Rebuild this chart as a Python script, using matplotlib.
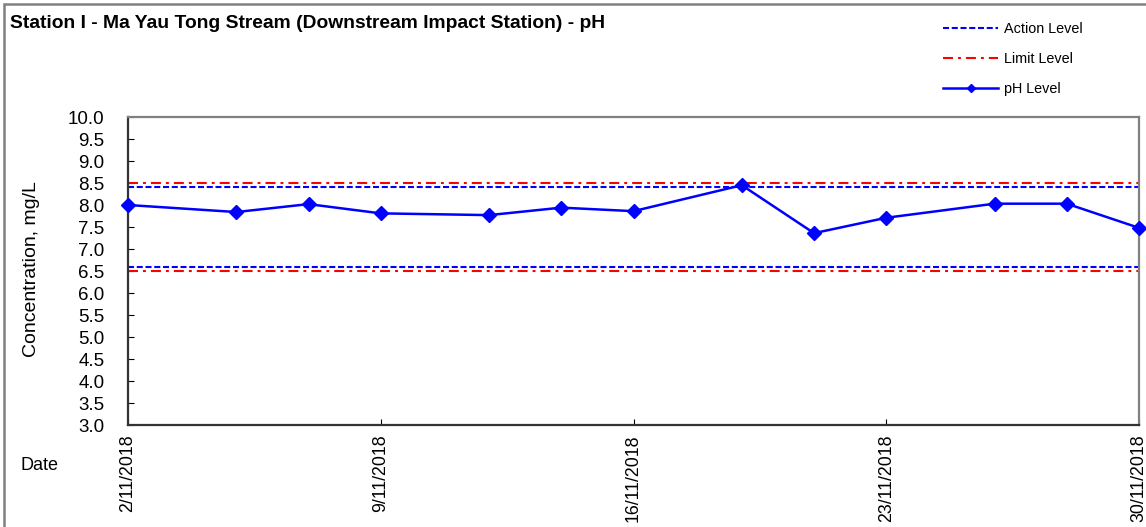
import matplotlib
matplotlib.use("Agg")
import matplotlib.pyplot as plt
from matplotlib.patches import Rectangle
import datetime as dt

plt.rcParams['font.family'] = ['Liberation Sans', 'DejaVu Sans']

dates = ["2018-11-02", "2018-11-05", "2018-11-07", "2018-11-09", "2018-11-12",
         "2018-11-14", "2018-11-16", "2018-11-19", "2018-11-21", "2018-11-23",
         "2018-11-26", "2018-11-28", "2018-11-30"]
ph_values = [8.0, 7.84, 8.02, 7.81, 7.77, 7.94, 7.86, 8.45, 7.36, 7.71, 8.03, 8.03, 7.48]
action_levels = [8.4, 6.6]
limit_levels = [8.5, 6.5]
tick_dates = ["2018-11-02", "2018-11-09", "2018-11-16", "2018-11-23", "2018-11-30"]

x = [dt.datetime.strptime(d, "%Y-%m-%d") for d in dates]
xt = [dt.datetime.strptime(d, "%Y-%m-%d") for d in tick_dates]

fig = plt.figure(figsize=(11.46, 5.27), dpi=100)
ax = fig.add_axes([128/1146, 1-425/527, (1139-128)/1146, (425-117)/527])

for i, a in enumerate(action_levels):
    ax.axhline(a, color='#0000FF', ls=(0, (2.9, 1.3)), lw=1.5,
               label='Action Level' if i == 0 else None)
for i, l in enumerate(limit_levels):
    ax.axhline(l, color='#FF0000', ls=(0, (4.8, 2.4, 1.4, 2.4)), lw=1.5,
               label='Limit Level' if i == 0 else None)
ax.plot(x, ph_values, color='#0000FF', lw=1.8, marker='D', ms=7, label='pH Level',
        zorder=5, clip_on=False)

ax.set_ylim(3.0, 10.0)
ax.set_yticks([3.0 + 0.5*i for i in range(15)])
ax.set_yticklabels([f"{3.0 + 0.5*i:.1f}" for i in range(15)], fontsize=13.5)
ax.set_xlim(xt[0], xt[-1])
ax.set_xticks(xt)
ax.set_xticklabels([f"{d.day}/{d.month}/{d.year}" for d in xt], rotation=90, fontsize=12.8)
ax.tick_params(axis='both', direction='in', length=4, width=0.8, colors='black')
ax.tick_params(axis='y', pad=17)
ax.tick_params(axis='x', pad=7)

for s in ['left', 'bottom']:
    ax.spines[s].set_color('#333333')
    ax.spines[s].set_linewidth(1.6)
for s in ['top', 'right']:
    ax.spines[s].set_color('#808080')
    ax.spines[s].set_linewidth(1.6)

ax.set_ylabel("Concentration, mg/L", fontsize=14)
ax.yaxis.set_label_coords(-0.087, 0.505)
fig.text(20/1146, 1-465/527, "Date", fontsize=13, ha='left', va='center')
fig.text(10/1146, 1-23/527, "Station I - Ma Yau Tong Stream (Downstream Impact Station) - pH",
         fontsize=13.9, fontweight='bold', ha='left', va='center')

fig.patches.append(Rectangle((4/1146, -0.05), 1.1, 1-4/527+0.05, transform=fig.transFigure,
                             fill=False, edgecolor='#808080', lw=1.8))

handles, labels = ax.get_legend_handles_labels()
leg = fig.legend(handles, labels, loc='upper right', bbox_to_anchor=(1096/1146, 1-9/527),
                 frameon=False, fontsize=10.4, handlelength=3.85, labelspacing=1.1,
                 handletextpad=0.42, markerscale=0.6)

fig.savefig("out.png", dpi=100)
